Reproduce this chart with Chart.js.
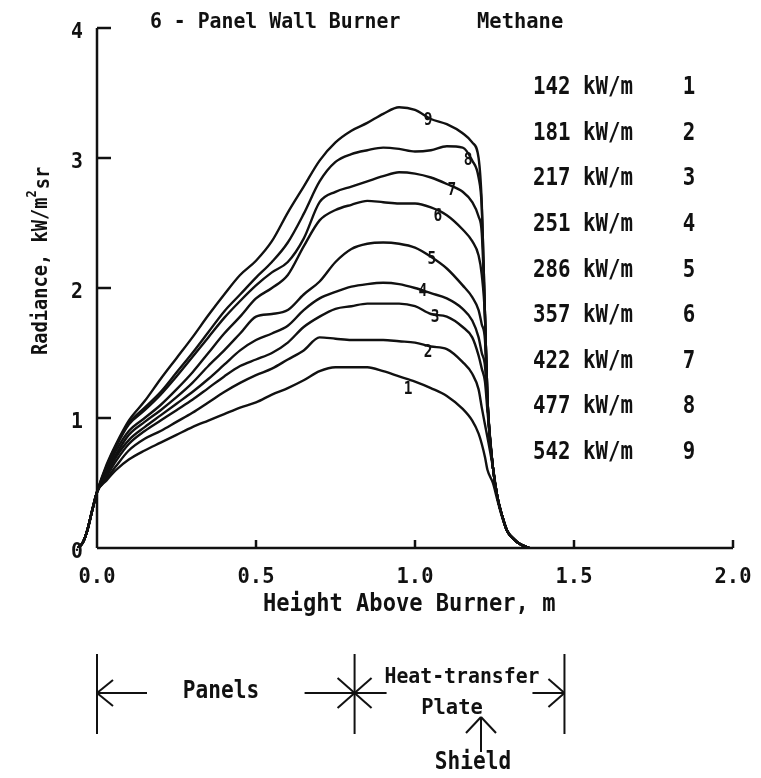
<!DOCTYPE html>
<html>
<head>
<meta charset="utf-8">
<script src="https://cdn.jsdelivr.net/npm/chart.js@4"></script>
<style>
  html, body { margin: 0; padding: 0; background: #fff; }
  #wrap { width: 761px; height: 778px; }
</style>
</head>
<body>
<div id="wrap"><canvas id="chart"></canvas></div>
<script>
// height above burner, m
const heights = [-0.06, -0.045, -0.03, -0.015, 0, 0.03, 0.06,
  0.1, 0.15, 0.2, 0.25, 0.3, 0.35, 0.4, 0.45, 0.5, 0.55, 0.6, 0.65, 0.7, 0.75,
  0.8, 0.85, 0.9, 0.95, 1.0, 1.05, 1.1, 1.15,
  1.18, 1.2, 1.21, 1.22, 1.228, 1.245, 1.26, 1.275, 1.29, 1.31, 1.33, 1.36];

// radiance, kW/m2 sr, one array per heat release rate
const curve1 = [0, 0.04, 0.14, 0.29, 0.43, 0.52, 0.6, 0.68, 0.75, 0.81, 0.87, 0.93, 0.98, 1.03, 1.08, 1.12, 1.18, 1.23, 1.29, 1.36, 1.39, 1.39, 1.39, 1.36, 1.32, 1.28, 1.23, 1.17, 1.07, 0.98, 0.88, 0.8, 0.7, 0.6, 0.5, 0.36, 0.23, 0.13, 0.07, 0.03, 0];
const curve2 = [0, 0.04, 0.14, 0.29, 0.43, 0.53, 0.63, 0.75, 0.84, 0.9, 0.97, 1.04, 1.12, 1.2, 1.27, 1.33, 1.38, 1.45, 1.52, 1.62, 1.61, 1.6, 1.6, 1.6, 1.59, 1.58, 1.55, 1.53, 1.43, 1.34, 1.22, 1.08, 0.95, 0.85, 0.62, 0.38, 0.24, 0.13, 0.07, 0.03, 0];
const curve3 = [0, 0.04, 0.14, 0.29, 0.43, 0.55, 0.67, 0.8, 0.9, 0.98, 1.06, 1.14, 1.23, 1.32, 1.4, 1.45, 1.5, 1.58, 1.7, 1.78, 1.84, 1.86, 1.88, 1.88, 1.88, 1.86, 1.8, 1.78, 1.7, 1.62, 1.48, 1.38, 1.28, 1.05, 0.62, 0.38, 0.24, 0.13, 0.07, 0.03, 0];
const curve4 = [0, 0.04, 0.14, 0.29, 0.43, 0.57, 0.7, 0.83, 0.93, 1.02, 1.11, 1.2, 1.3, 1.41, 1.52, 1.6, 1.65, 1.71, 1.83, 1.92, 1.97, 2.01, 2.03, 2.04, 2.03, 2.0, 1.96, 1.92, 1.84, 1.75, 1.62, 1.5, 1.4, 1.1, 0.62, 0.38, 0.24, 0.13, 0.07, 0.03, 0];
const curve5 = [0, 0.04, 0.14, 0.29, 0.43, 0.58, 0.72, 0.87, 0.97, 1.06, 1.16, 1.27, 1.4, 1.52, 1.65, 1.78, 1.8, 1.83, 1.95, 2.05, 2.2, 2.3, 2.34, 2.35, 2.34, 2.31, 2.24, 2.15, 2.02, 1.93, 1.83, 1.72, 1.6, 1.12, 0.62, 0.38, 0.24, 0.13, 0.07, 0.03, 0];
const curve6 = [0, 0.04, 0.14, 0.29, 0.43, 0.6, 0.75, 0.9, 1.0, 1.1, 1.22, 1.35, 1.5, 1.65, 1.78, 1.92, 2.0, 2.1, 2.32, 2.52, 2.6, 2.64, 2.67, 2.66, 2.65, 2.65, 2.62, 2.56, 2.45, 2.36, 2.25, 2.1, 1.78, 1.14, 0.62, 0.38, 0.24, 0.13, 0.07, 0.03, 0];
const curve7 = [0, 0.04, 0.14, 0.29, 0.43, 0.62, 0.78, 0.95, 1.06, 1.18, 1.32, 1.47, 1.62, 1.77, 1.9, 2.02, 2.12, 2.2, 2.38, 2.66, 2.74, 2.78, 2.82, 2.86, 2.89, 2.88, 2.85, 2.8, 2.74, 2.66, 2.55, 2.42, 1.8, 1.14, 0.62, 0.38, 0.24, 0.13, 0.07, 0.03, 0];
const curve8 = [0, 0.04, 0.14, 0.29, 0.43, 0.63, 0.79, 0.96, 1.08, 1.2, 1.35, 1.5, 1.66, 1.82, 1.95, 2.08, 2.2, 2.35, 2.57, 2.82, 2.97, 3.03, 3.06, 3.08, 3.07, 3.05, 3.06, 3.09, 3.08, 2.98, 2.85, 2.62, 1.8, 1.14, 0.62, 0.38, 0.24, 0.13, 0.07, 0.03, 0];
const curve9 = [0, 0.04, 0.14, 0.29, 0.43, 0.64, 0.8, 0.98, 1.13, 1.3, 1.46, 1.62, 1.79, 1.95, 2.1, 2.21, 2.36, 2.58, 2.78, 2.98, 3.12, 3.21, 3.27, 3.34, 3.39, 3.37, 3.3, 3.26, 3.19, 3.12, 3.0, 2.65, 1.8, 1.14, 0.62, 0.38, 0.24, 0.13, 0.07, 0.03, 0];

const curveIds = ["1", "2", "3", "4", "5", "6", "7", "8", "9"];
const heatRates = [142, 181, 217, 251, 286, 357, 422, 477, 542]; // kW/m
const xTicks = [0, 0.5, 1.0, 1.5, 2.0];
const xTickLabels = ["0.0", "0.5", "1.0", "1.5", "2.0"];
const yTicks = [0, 1, 2, 3, 4];
const yTickLabels = ["0", "1", "2", "3", "4"];
const zoneEdges = [0, 0.81, 1.47]; // panels | heat-transfer plate

const allCurves = [curve1, curve2, curve3, curve4, curve5, curve6, curve7, curve8, curve9];

function txt(ctx, s, x, y, o) {
  o = o || {};
  ctx.save();
  ctx.translate(x, y);
  if (o.rot) ctx.rotate(o.rot);
  ctx.scale(o.sx || 0.88, 1);
  ctx.font = "bold " + (o.size || 22) + "px 'DejaVu Sans Mono'";
  ctx.textAlign = o.align || "left";
  ctx.textBaseline = "middle";
  ctx.fillStyle = "#111";
  ctx.fillText(s, 0, 0);
  ctx.restore();
}

function seg(ctx, x1, y1, x2, y2) {
  ctx.beginPath();
  ctx.moveTo(x1, y1);
  ctx.lineTo(x2, y2);
  ctx.stroke();
}

const axesPlugin = {
  id: "axes",
  beforeDatasetsDraw(chart) {
    const ctx = chart.ctx, sx = chart.scales.x, sy = chart.scales.y;
    const x0 = sx.getPixelForValue(0), y0 = sy.getPixelForValue(0);
    ctx.save();
    ctx.strokeStyle = "#111";
    ctx.lineWidth = 2.5;
    seg(ctx, x0, y0, x0, sy.getPixelForValue(4));
    seg(ctx, x0, y0, sx.getPixelForValue(2), y0);
    yTicks.forEach(function (t) {
      if (t === 0) return;
      const py = sy.getPixelForValue(t);
      seg(ctx, x0, py, x0 + 14, py);
    });
    xTicks.forEach(function (t) {
      if (t === 0) return;
      const px = sx.getPixelForValue(t);
      seg(ctx, px, y0, px, y0 - 8);
    });
    ctx.restore();
  },
  afterDraw(chart) {
    const ctx = chart.ctx, sx = chart.scales.x, sy = chart.scales.y;
    const y0 = sy.getPixelForValue(0);

    // tick labels
    xTicks.forEach(function (t, i) {
      txt(ctx, xTickLabels[i], sx.getPixelForValue(t), y0 + 29, { size: 22, sx: 0.93, align: "center" });
    });
    yTicks.forEach(function (t, i) {
      txt(ctx, yTickLabels[i], 83, sy.getPixelForValue(t) + 4, { size: 22, sx: 0.9, align: "right" });
    });

    // titles
    txt(ctx, "6 - Panel Wall Burner", 150, 22, { size: 22, sx: 0.9 });
    txt(ctx, "Methane", 477, 22, { size: 22, sx: 0.93 });
    txt(ctx, "Height Above Burner, m", 263, 605, { size: 24, sx: 0.92 });

    // y axis title with superscript
    ctx.save();
    ctx.translate(41, 355);
    ctx.rotate(-Math.PI / 2);
    ctx.scale(0.85, 1);
    ctx.fillStyle = "#111";
    ctx.textBaseline = "middle";
    ctx.font = "bold 22px 'DejaVu Sans Mono'";
    const a = "Radiance, kW/m";
    ctx.fillText(a, 0, 0);
    let w = ctx.measureText(a).width;
    ctx.font = "bold 14px 'DejaVu Sans Mono'";
    ctx.fillText("2", w, -9);
    w += ctx.measureText("2").width + 1;
    ctx.font = "bold 22px 'DejaVu Sans Mono'";
    ctx.fillText("sr", w, 2);
    ctx.restore();

    // legend
    heatRates.forEach(function (r, i) {
      const py = 88 + i * 45.6;
      txt(ctx, r + " kW/m", 533, py, { size: 24, sx: 0.865 });
      txt(ctx, curveIds[i], 689, py, { size: 24, sx: 0.865, align: "center" });
    });

    // curve numbers
    const tags = [[0.978, 1.22], [1.041, 1.5], [1.063, 1.77], [1.025, 1.97], [1.053, 2.22],
      [1.072, 2.55], [1.116, 2.75], [1.167, 2.98], [1.041, 3.29]];
    tags.forEach(function (p, i) {
      txt(ctx, curveIds[i], sx.getPixelForValue(p[0]), sy.getPixelForValue(p[1]),
        { size: 17, sx: 0.85, align: "center" });
    });

    // zone diagram under the axis
    const xa = sx.getPixelForValue(zoneEdges[0]);
    const xb = sx.getPixelForValue(zoneEdges[1]);
    const xc = sx.getPixelForValue(zoneEdges[2]);
    const ya = 693;
    ctx.save();
    ctx.strokeStyle = "#111";
    ctx.lineWidth = 2;
    [xa, xb, xc].forEach(function (x) { seg(ctx, x, 654, x, 734); });
    // left arrow
    seg(ctx, xa, ya, xa + 50, ya);
    seg(ctx, xa, ya, xa + 16, ya - 13);
    seg(ctx, xa, ya, xa + 16, ya + 13);
    // arrows meeting at the middle bar
    seg(ctx, xb - 50, ya, xb + 32, ya);
    seg(ctx, xb, ya, xb - 17, ya - 15);
    seg(ctx, xb, ya, xb - 17, ya + 15);
    seg(ctx, xb, ya, xb + 17, ya - 15);
    seg(ctx, xb, ya, xb + 17, ya + 15);
    // right arrow
    seg(ctx, xc - 32, ya, xc, ya);
    seg(ctx, xc, ya, xc - 16, ya - 14);
    seg(ctx, xc, ya, xc - 16, ya + 14);
    // shield arrow
    seg(ctx, 481, 717, 481, 752);
    seg(ctx, 481, 717, 466, 733);
    seg(ctx, 481, 717, 496, 733);
    ctx.restore();

    txt(ctx, "Panels", 221, 692, { size: 24, sx: 0.88, align: "center" });
    txt(ctx, "Heat-transfer", 462, 677, { size: 22, sx: 0.9, align: "center" });
    txt(ctx, "Plate", 452, 708, { size: 22, sx: 0.93, align: "center" });
    txt(ctx, "Shield", 473, 763, { size: 24, sx: 0.88, align: "center" });
  }
};

new Chart(document.getElementById("chart"), {
  type: "line",
  data: {
    datasets: allCurves.map(function (c, i) {
      return {
        label: curveIds[i],
        data: heights.map(function (h, j) { return { x: h, y: c[j] }; }),
        borderColor: "#111",
        borderWidth: 2.4,
        pointRadius: 0,
        cubicInterpolationMode: "monotone",
        fill: false
      };
    })
  },
  options: {
    responsive: true,
    maintainAspectRatio: false,
    animation: false,
    events: [],
    layout: { padding: { left: 65.2, right: 28, top: 28, bottom: 230 } },
    plugins: {
      legend: { display: false },
      tooltip: { enabled: false }
    },
    scales: {
      x: { type: "linear", min: -0.1, max: 2.0, display: false },
      y: { type: "linear", min: 0, max: 4, display: false }
    }
  },
  plugins: [axesPlugin]
});
</script>
</body>
</html>
